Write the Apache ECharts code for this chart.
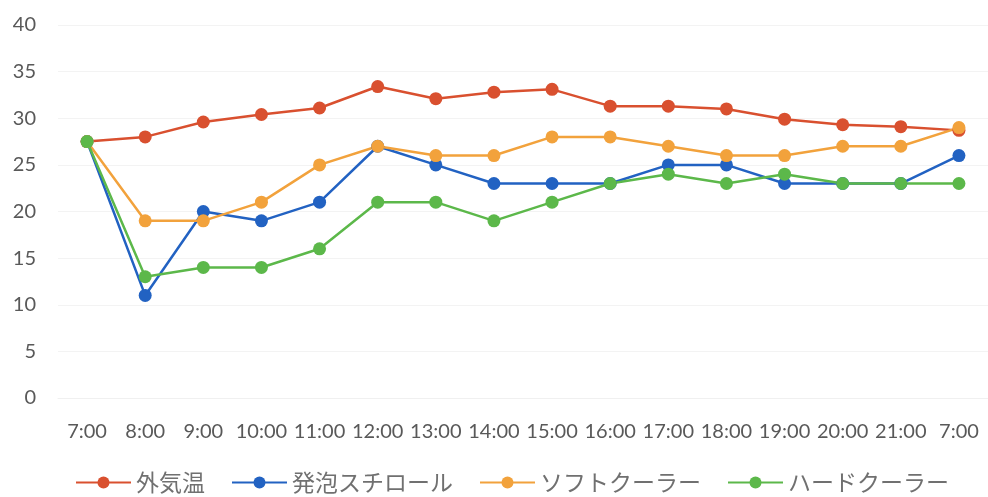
<!DOCTYPE html>
<html>
<head>
<meta charset="utf-8">
<script src="https://cdn.jsdelivr.net/npm/echarts@6/dist/echarts.min.js"></script>
<style>
  html, body { margin: 0; padding: 0; background: #fff; }
  #chart { width: 988px; height: 497px; }
</style>
</head>
<body>
<div id="chart"></div>
<script>
// 時刻
const hours = ['7:00', '8:00', '9:00', '10:00', '11:00', '12:00', '13:00', '14:00',
  '15:00', '16:00', '17:00', '18:00', '19:00', '20:00', '21:00', '7:00'];

const outsideTemp = [27.5, 28, 29.6, 30.4, 31.1, 33.4, 32.1, 32.8, 33.1, 31.3, 31.3, 31.0, 29.9, 29.3, 29.1, 28.7];
const styrofoam   = [27.5, 11, 20, 19, 21, 27, 25, 23, 23, 23, 25, 25, 23, 23, 23, 26];
const softCooler  = [27.5, 19, 19, 21, 25, 27, 26, 26, 28, 28, 27, 26, 26, 27, 27, 29];
const hardCooler  = [27.5, 13, 14, 14, 16, 21, 21, 19, 21, 23, 24, 23, 24, 23, 23, 23];

const seriesNames = ['外気温', '発泡スチロール', 'ソフトクーラー', 'ハードクーラー'];
const colors = ['#d9502f', '#2262c2', '#f2a23c', '#5cb84a'];

const chart = echarts.init(document.getElementById('chart'));

function makeLine(name, data, color) {
  return {
    name: name,
    type: 'line',
    data: data,
    symbol: 'circle',
    symbolSize: 13,
    lineStyle: { width: 2.5, color: color },
    itemStyle: { color: color },
    animation: false
  };
}

const option = {
  textStyle: { fontFamily: 'Lato, "Noto Sans CJK JP", sans-serif' },
  grid: { left: 58, right: 0, top: 25, bottom: 99 },
  legend: {
    left: 70,
    top: 466,
    padding: [5, 5, 0, 5],
    itemWidth: 55,
    itemHeight: 15,
    itemGap: 26,
    textStyle: { fontSize: 23, color: '#707070', fontFamily: '"Noto Sans CJK JP", sans-serif' },
    data: seriesNames
  },
  xAxis: {
    type: 'category',
    data: hours,
    boundaryGap: true,
    axisLine: { lineStyle: { color: '#f0f0f0' } },
    axisTick: { show: false },
    axisLabel: { interval: 0, fontSize: 20, color: '#595959', margin: 24 }
  },
  yAxis: {
    type: 'value',
    min: 0,
    max: 40,
    interval: 5,
    axisLine: { show: false },
    axisTick: { show: false },
    splitLine: { lineStyle: { color: '#f3f3f3' } },
    axisLabel: { fontSize: 20, color: '#595959', margin: 22 }
  },
  series: [
    makeLine(seriesNames[0], outsideTemp, colors[0]),
    makeLine(seriesNames[1], styrofoam, colors[1]),
    makeLine(seriesNames[2], softCooler, colors[2]),
    makeLine(seriesNames[3], hardCooler, colors[3])
  ]
};

chart.setOption(option);
</script>
</body>
</html>
